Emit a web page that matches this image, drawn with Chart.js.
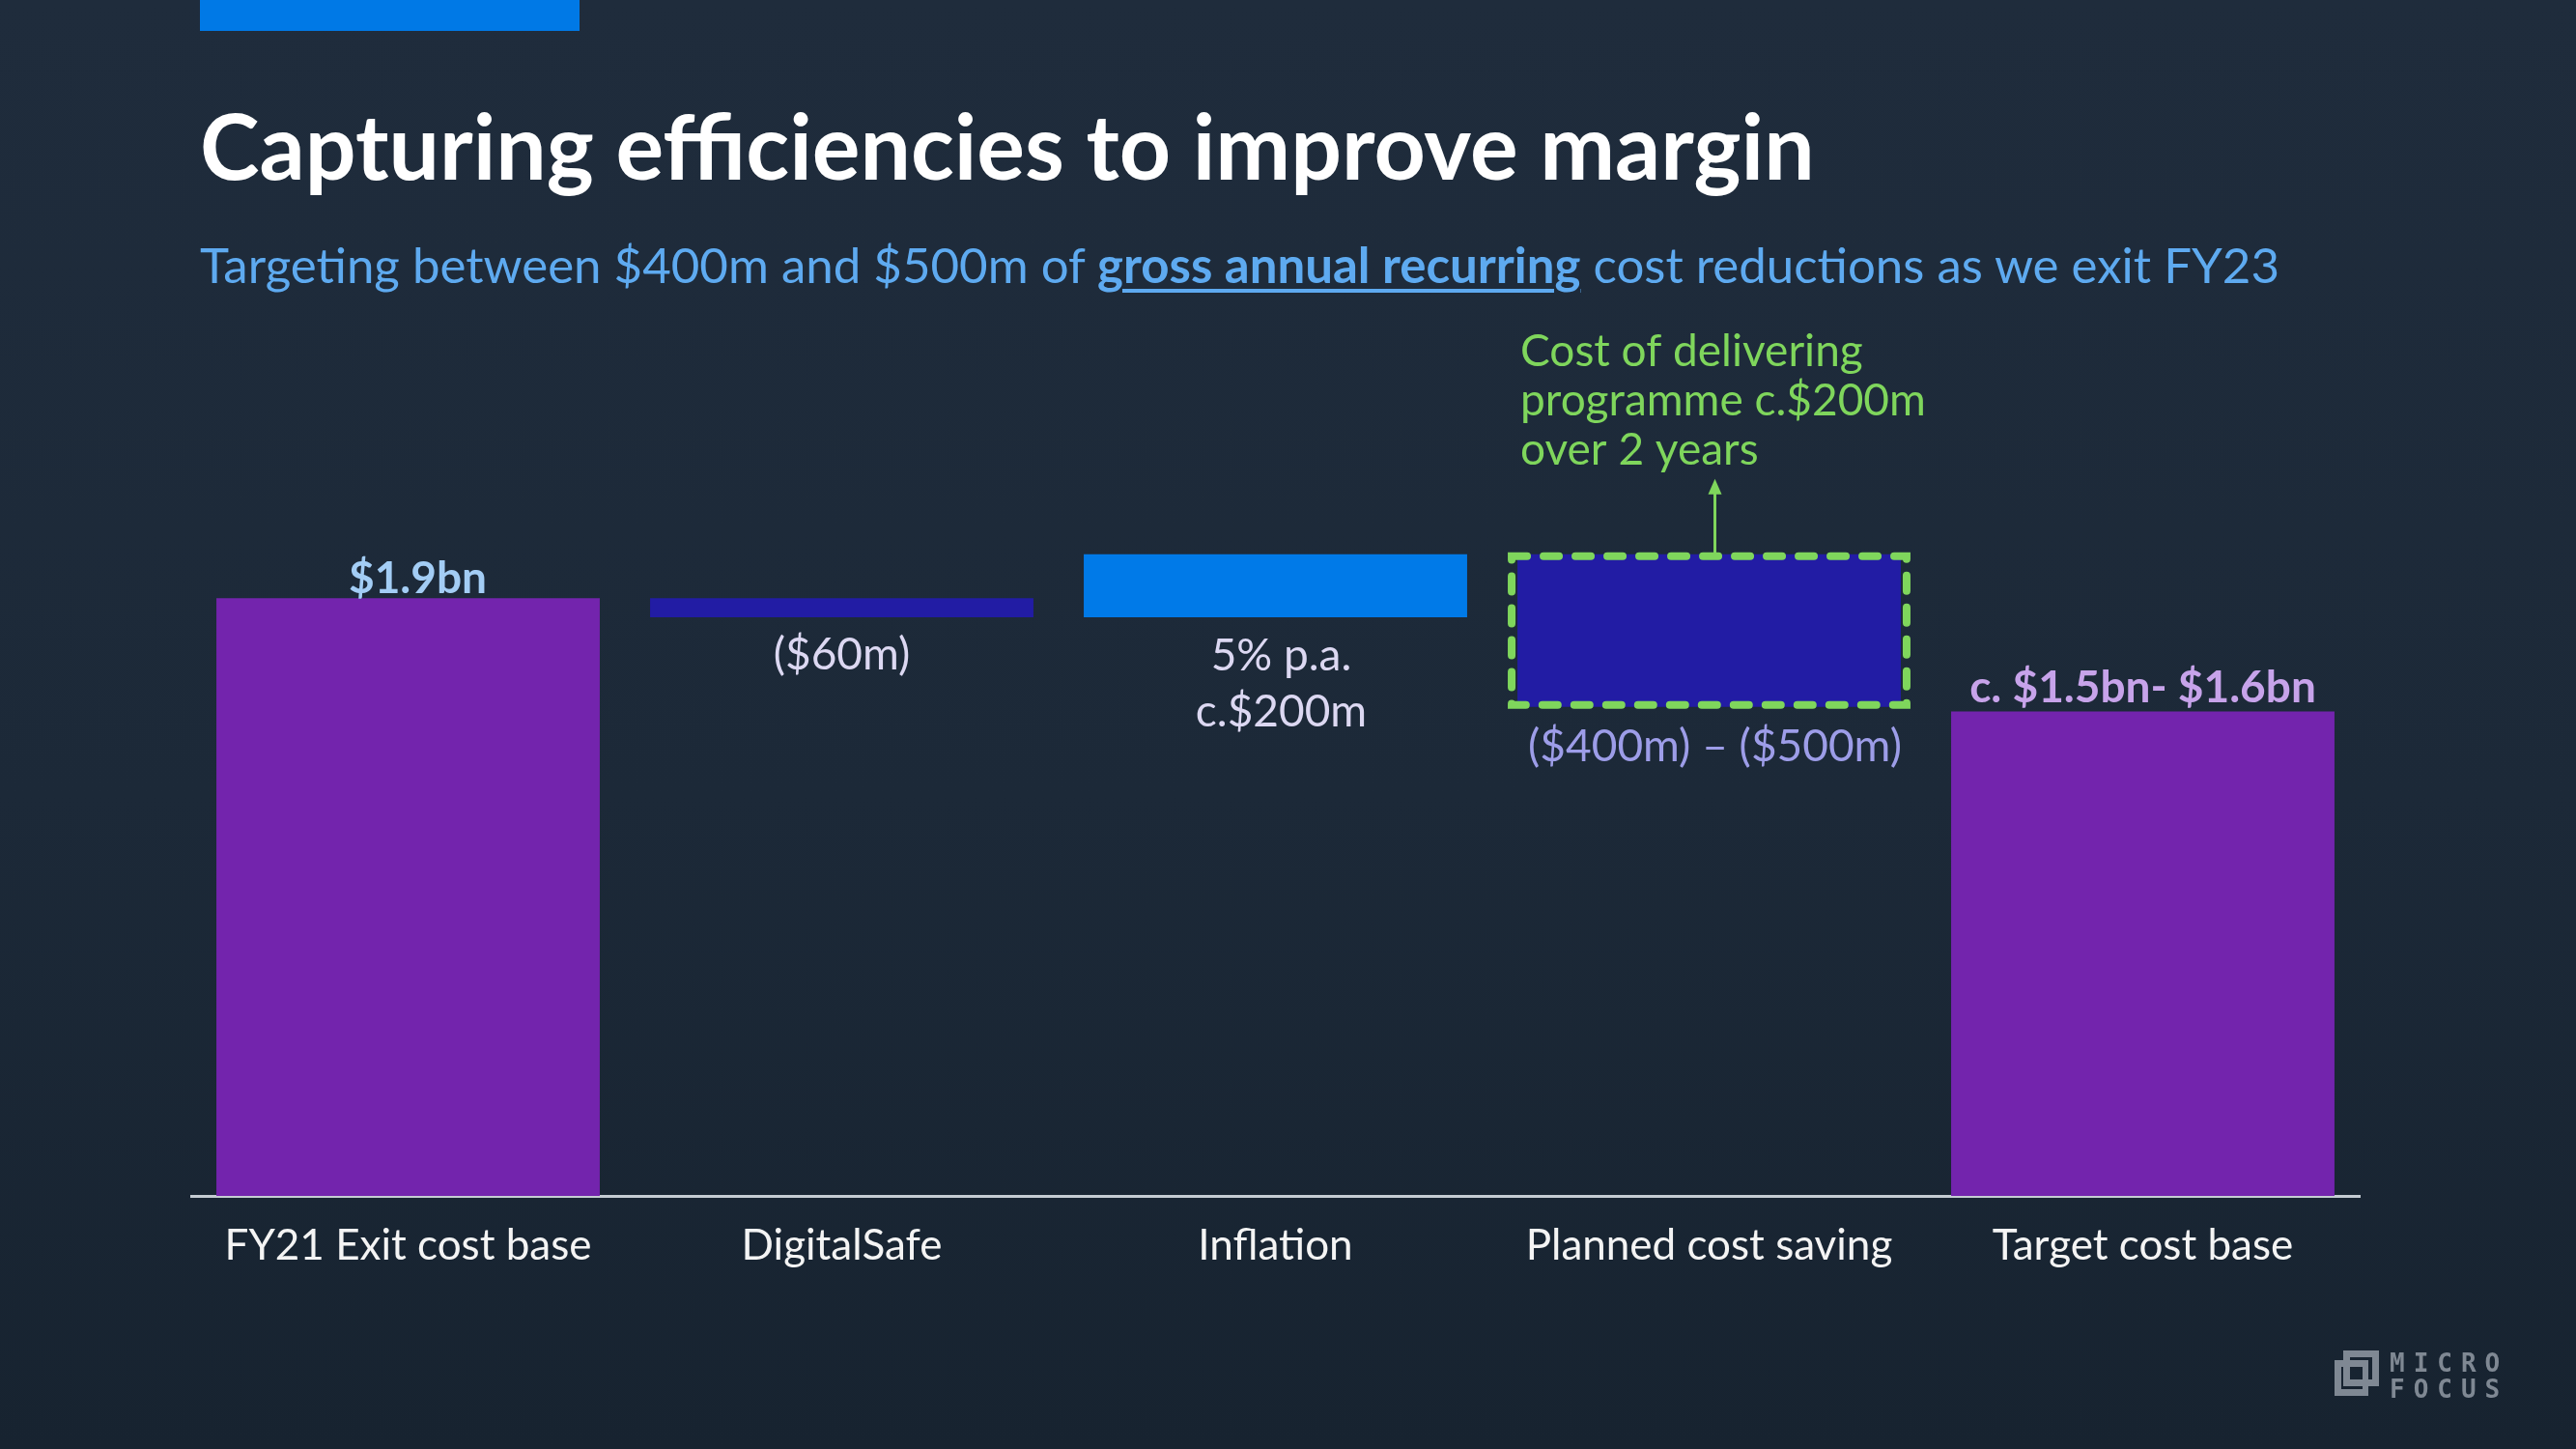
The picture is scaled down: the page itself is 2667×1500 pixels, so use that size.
<!DOCTYPE html>
<html>
<head>
<meta charset="utf-8">
<script src="https://cdn.jsdelivr.net/npm/chart.js@4.4.0/dist/chart.umd.min.js"></script>
<style>
  html, body { margin: 0; padding: 0; }
  body {
    width: 2667px;
    height: 1500px;
    overflow: hidden;
    position: relative;
    background: linear-gradient(180deg, #1f2c3c 0%, #1c2938 55%, #172330 100%);
    font-family: Lato, "Open Sans", sans-serif;
  }
  .topbar { position: absolute; left: 207px; top: 0; width: 393px; height: 32px; background: #0079e6; }
  h1 {
    position: absolute; left: 207px; top: 104px; margin: 0;
    font-size: 93px; line-height: 1; font-weight: 700; color: #ffffff; white-space: nowrap;
  }
  .sub {
    position: absolute; left: 207px; top: 248px; margin: 0;
    font-size: 51px; line-height: 1; color: #5eaaf0; white-space: nowrap;
  }
  .sub b { text-decoration: underline; text-decoration-thickness: 4px; text-underline-offset: 6px; }
  #chart { position: absolute; left: 0; top: 0; }
  .logo { position: absolute; left: 2417px; top: 1398px; width: 200px; height: 50px; }
  .sq1 { position: absolute; left: 9px; top: 0; width: 23px; height: 23px; border: 7px solid #7f8893; }
  .sq2 { position: absolute; left: 0; top: 10px; width: 22px; height: 23px; border: 7px solid #7f8893; border-right-width: 6px; }
  .txt {
    position: absolute; left: 57px; font-family: "DejaVu Sans Mono", monospace; font-weight: 700;
    font-size: 26px; line-height: 1; letter-spacing: 9px; color: #7f8893;
  }
</style>
</head>
<body>
<div class="topbar"></div>
<h1>Capturing efficiencies to improve margin</h1>
<p class="sub">Targeting between $400m and $500m of <b>gross annual recurring</b> cost reductions as we exit FY23</p>
<canvas id="chart" width="2667" height="1500"></canvas>
<div class="logo">
  <div class="sq1"></div>
  <div class="sq2"></div>
  <div class="txt" style="top:0">MICRO</div>
  <div class="txt" style="top:27px">FOCUS</div>
</div>
<script>
var categories = ["FY21 Exit cost base", "DigitalSafe", "Inflation", "Planned cost saving", "Target cost base"];
var barLow = [0, 1840, 1840, 1555, 0];
var barHigh = [1900, 1900, 2040, 2040, 1540];
var valueLabels = [["$1.9bn"], ["($60m)"], ["5% p.a.", "c.$200m"], ["($400m) – ($500m)"], ["c. $1.5bn- $1.6bn"]];
var noteLines = ["Cost of delivering", "programme c.$200m", "over 2 years"];

var barColors = ["#7324ad", "#221ca4", "#007ae8", "#221ca4", "#7324ad"];

var ranges = [];
for (var i = 0; i < categories.length; i++) {
  ranges.push([barLow[i], barHigh[i]]);
}

// labels + dashed box + arrow drawn relative to the bars
var labelPlugin = {
  id: "waterfallLabels",
  afterDatasetsDraw: function (chart) {
    var ctx = chart.ctx;
    var bars = chart.getDatasetMeta(0).data;
    ctx.save();
    ctx.textAlign = "center";
    ctx.textBaseline = "middle";

    // bar 1 label (above)
    ctx.font = "bold 46px Lato";
    ctx.fillStyle = "#a3cdf5";
    ctx.fillText(valueLabels[0][0], bars[0].x + 10, bars[0].y - 20);

    // DigitalSafe (below)
    ctx.font = "46px Lato";
    ctx.fillStyle = "#dcd8f2";
    ctx.fillText(valueLabels[1][0], bars[1].x, bars[1].base + 39);

    // Inflation (below, 2 lines)
    ctx.fillText(valueLabels[2][0], bars[2].x + 6, bars[2].y + 105);
    ctx.fillText(valueLabels[2][1], bars[2].x + 6, bars[2].y + 163);

    // Planned saving (below)
    ctx.fillStyle = "#9d9de8";
    ctx.fillText(valueLabels[3][0], bars[3].x + 6, bars[3].base + 41);

    // Target (above)
    ctx.font = "bold 46px Lato";
    ctx.fillStyle = "#c7a3ea";
    ctx.fillText(valueLabels[4][0], bars[4].x, bars[4].y - 24);

    // dashed green box round the saving bar
    var b = bars[3];
    var half = b.width / 2 + 6;
    ctx.strokeStyle = "#7fd65c";
    ctx.lineWidth = 8;
    ctx.lineCap = "round";
    ctx.setLineDash([16, 17]);
    ctx.strokeRect(b.x - half, b.y + 2, half * 2, b.base - b.y - 4);
    ctx.setLineDash([]);

    // arrow up to the note
    var ax = b.x + 6;
    ctx.lineWidth = 3;
    ctx.lineCap = "butt";
    ctx.beginPath();
    ctx.moveTo(ax, b.y);
    ctx.lineTo(ax, b.y - 64);
    ctx.stroke();
    ctx.fillStyle = "#7fd65c";
    ctx.beginPath();
    ctx.moveTo(ax, b.y - 78);
    ctx.lineTo(ax - 7, b.y - 62);
    ctx.lineTo(ax + 7, b.y - 62);
    ctx.closePath();
    ctx.fill();

    // note text
    ctx.textAlign = "left";
    ctx.font = "46px Lato";
    for (var j = 0; j < noteLines.length; j++) {
      ctx.fillText(noteLines[j], b.x - half + 9, b.y - 210 + j * 51);
    }
    ctx.restore();
  },
};

new Chart(document.getElementById("chart").getContext("2d"), {
  type: "bar",
  data: {
    labels: categories,
    datasets: [
      {
        label: "Cost base",
        data: ranges,
        backgroundColor: barColors,
        borderWidth: 0,
        borderSkipped: false,
        barPercentage: 0.884,
        categoryPercentage: 1,
      },
    ],
  },
  options: {
    responsive: false,
    animation: false,
    layout: {
      padding: { left: 198, right: 224, top: 424, bottom: 162 },
    },
    plugins: {
      legend: { display: false },
      tooltip: { enabled: false },
    },
    scales: {
      y: {
        display: false,
        min: 0,
        max: 2500,
        grid: { display: false },
      },
      x: {
        grid: { display: false, drawTicks: false },
        border: { display: true, color: "#c5ccd3", width: 3 },
        ticks: {
          color: "#f4f4f4",
          padding: 25,
          maxRotation: 0,
          autoSkip: false,
          font: { family: "Lato", size: 44 },
        },
        afterFit: function (scale) {
          scale.height = 100;
        },
      },
    },
  },
  plugins: [labelPlugin],
});
</script>
</body>
</html>
